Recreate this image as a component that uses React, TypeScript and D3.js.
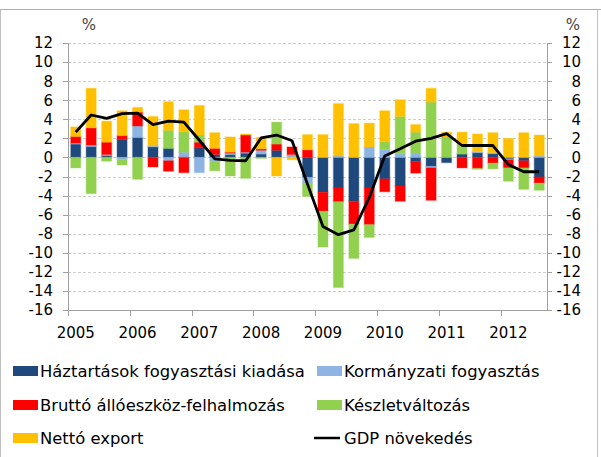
import React from 'react'
import * as d3 from 'd3'

// quarterly data, 2005 Q1 - 2012 Q3
const years = ['2005', '2006', '2007', '2008', '2009', '2010', '2011', '2012']
const quarters = years.flatMap(y => ['Q1', 'Q2', 'Q3', 'Q4'].map(q => y + ' ' + q)).slice(0, 31)

const haztartasok = [1.4, 1.15, 0.2, 1.9, 2.1, 1.1, 0.95, 0, 1.0, 0.3, 0.3, 0.45, 0.35, 0.75, 0, -2.1,
  -3.65, -3.2, -4.6, -3.2, -2.25, -3.0, -0.45, -0.95, -0.55, 0.35, 0.5, 0.4, -0.15, -0.35, -2.05]
const kormanyzati = [0.1, 0.15, 0.1, -0.2, 1.2, 0.1, -0.35, 0.55, -1.6, -0.4, 0.15, 0.1, 0.4, 0, 0.3, -0.6,
  0, 0.15, 0, 1.1, 0.85, 0.4, 0.45, -0.15, 0, 0, 0.1, 0.1, -0.1, 0, 0.15]
const brutto = [0.7, 1.8, 1.3, 0.4, 1.45, -1.0, -1.1, -1.6, 0.6, 0.65, 0.1, 1.8, 0.15, 0.65, 0.8, 0.8,
  -2.0, -1.45, -2.4, -3.85, -1.35, -1.6, -1.2, -3.4, 0, -1.1, -1.15, -0.6, -0.85, -0.75, -0.65]
const keszlet = [-1.1, -3.8, -0.4, -0.6, -2.3, 0, 1.9, 2.15, 0.75, -1.0, -1.95, -2.2, -0.1, 2.3, 0, -1.4,
  -3.75, -9.0, -3.6, -1.35, 0.8, 3.9, 2.2, 5.8, 2.15, 1.1, -0.1, -0.6, -1.4, -2.25, -0.75]
const netto = [1.0, 4.15, 2.2, 2.6, 0.5, 3.1, 3.0, 2.3, 3.1, 1.65, 1.6, 0.1, 1.2, -1.95, -0.25, 1.6,
  2.4, 5.5, 3.55, 2.5, 3.25, 1.75, 0.8, 1.45, 0.5, 1.2, 1.85, 2.1, 2.0, 2.6, 2.2]
const gdp = [2.65, 4.45, 4.1, 4.6, 4.65, 3.45, 3.8, 3.7, 1.8, -0.15, -0.3, -0.35, 2.05, 2.35, 1.75, -2.8,
  -7.25, -8.1, -7.6, -4.2, 0.15, 0.9, 1.7, 2.0, 2.5, 1.25, 1.25, 1.25, -0.75, -1.5, -1.5]

const yTicks = [12, 10, 8, 6, 4, 2, 0, -2, -4, -6, -8, -10, -12, -14, -16]

const seriesNames = ['Háztartások fogyasztási kiadása', 'Kormányzati fogyasztás', 'Bruttó állóeszköz-felhalmozás', 'Készletváltozás', 'Nettó export']
const seriesColors = ['#1f497d', '#8db4e2', '#ff0000', '#92d050', '#ffc000']
const seriesValues = [haztartasok, kormanyzati, brutto, keszlet, netto]
const gdpName = 'GDP növekedés'

const width = 601
const height = 457
const margin = { top: 43, right: 54, bottom: 147, left: 68 }
const font = 'DejaVu Sans, sans-serif'

export default function App () {
  const plotRight = width - margin.right
  const plotBottom = height - margin.bottom

  const x = d3.scaleBand<string>()
    .domain(quarters)
    .range([margin.left, plotRight])
    .paddingInner(0.35)
    .paddingOuter(0.175)

  const y = d3.scaleLinear()
    .domain([-16, 12])
    .range([plotBottom, margin.top])

  const rows = quarters.map((q, i) => {
    const r: any = { q }
    seriesNames.forEach((n, j) => { r[n] = seriesValues[j][i] })
    return r
  })

  const stacked = d3.stack<any>()
    .keys(seriesNames)
    .offset(d3.stackOffsetDiverging)(rows)

  const line = d3.line<number>()
    .x((d, i) => x(quarters[i])! + x.bandwidth() / 2)
    .y(d => y(d))

  const step = x.step()
  const yearTicks = d3.range(0, 29, 4).map(i => margin.left + i * step)

  const legendRows = [371, 405, 438]
  const legend = [
    { name: seriesNames[0], color: seriesColors[0], x: 13, row: 0 },
    { name: seriesNames[1], color: seriesColors[1], x: 317, row: 0 },
    { name: seriesNames[2], color: seriesColors[2], x: 13, row: 1 },
    { name: seriesNames[3], color: seriesColors[3], x: 317, row: 1 },
    { name: seriesNames[4], color: seriesColors[4], x: 13, row: 2 }
  ]

  return (
    <svg width={width} height={height} style={{ position: 'absolute', left: 0, top: 0, background: '#fff' }}
      fontFamily={font}>
      {/* frame */}
      <line x1={0} x2={width} y1={9.5} y2={9.5} stroke='#b0b0b0' />
      <line x1={0.5} x2={0.5} y1={9.5} y2={height} stroke='#c0c0c0' />
      <line x1={597.5} x2={597.5} y1={9.5} y2={height} stroke='#c0c0c0' />

      {/* grid */}
      {yTicks.filter(t => t !== -16).map(t => (
        <line key={t} x1={margin.left} x2={plotRight} y1={Math.round(y(t)) + 0.5} y2={Math.round(y(t)) + 0.5}
          stroke='#cfcfcf' strokeDasharray='3,2' />
      ))}

      {/* bars */}
      {stacked.map((s, j) => (
        <g key={s.key} fill={seriesColors[j]}>
          {s.map((d, i) => {
            const h = Math.abs(y(d[0]) - y(d[1]))
            if (h < 0.01) return null
            return (
              <rect key={i} x={x(quarters[i])} y={Math.min(y(d[0]), y(d[1]))} width={x.bandwidth()} height={h}
                stroke={seriesColors[j]} strokeOpacity={0.25} strokeWidth={1.5} />
            )
          })}
        </g>
      ))}

      {/* axes */}
      <line x1={margin.left + 0.5} x2={margin.left + 0.5} y1={margin.top} y2={plotBottom} stroke='#a0a0a0' />
      <line x1={plotRight + 0.5} x2={plotRight + 0.5} y1={margin.top} y2={plotBottom} stroke='#a0a0a0' />
      <line x1={margin.left} x2={plotRight} y1={plotBottom + 0.5} y2={plotBottom + 0.5} stroke='#a0a0a0' />
      {yTicks.map(t => (
        <g key={t}>
          <line x1={margin.left - 5} x2={margin.left} y1={Math.round(y(t)) + 0.5} y2={Math.round(y(t)) + 0.5} stroke='#a0a0a0' />
          <line x1={plotRight} x2={plotRight + 5} y1={Math.round(y(t)) + 0.5} y2={Math.round(y(t)) + 0.5} stroke='#a0a0a0' />
          <text x={53} y={y(t)} dy='0.36em' textAnchor='end' fontSize={15}>{t}</text>
          <text x={581} y={y(t)} dy='0.36em' textAnchor='end' fontSize={15}>{t}</text>
        </g>
      ))}
      {yearTicks.map(t => (
        <line key={t} x1={Math.round(t) + 0.5} x2={Math.round(t) + 0.5} y1={plotBottom} y2={plotBottom + 6} stroke='#a0a0a0' />
      ))}
      {years.map((yr, k) => (
        <text key={yr} x={x(quarters[k * 4])! + x.bandwidth() / 2} y={338} textAnchor='middle' fontSize={15}>{yr}</text>
      ))}
      <text x={89} y={30} textAnchor='middle' fontSize={15} fill='#444'>%</text>
      <text x={573} y={30} textAnchor='middle' fontSize={15} fill='#444'>%</text>

      {/* GDP line */}
      <path d={line(gdp)!} fill='none' stroke='#000' strokeWidth={2.8} strokeLinejoin='round' />

      {/* legend */}
      {legend.map(l => (
        <g key={l.name}>
          <rect x={l.x} y={legendRows[l.row] - 5} width={25} height={10} fill={l.color} />
          <text x={l.x + 27} y={legendRows[l.row]} dy='0.36em' fontSize={16.4}>{l.name}</text>
        </g>
      ))}
      <line x1={314} x2={340} y1={legendRows[2]} y2={legendRows[2]} stroke='#000' strokeWidth={2.5} />
      <text x={344} y={legendRows[2]} dy='0.36em' fontSize={16.4}>{gdpName}</text>
    </svg>
  )
}
